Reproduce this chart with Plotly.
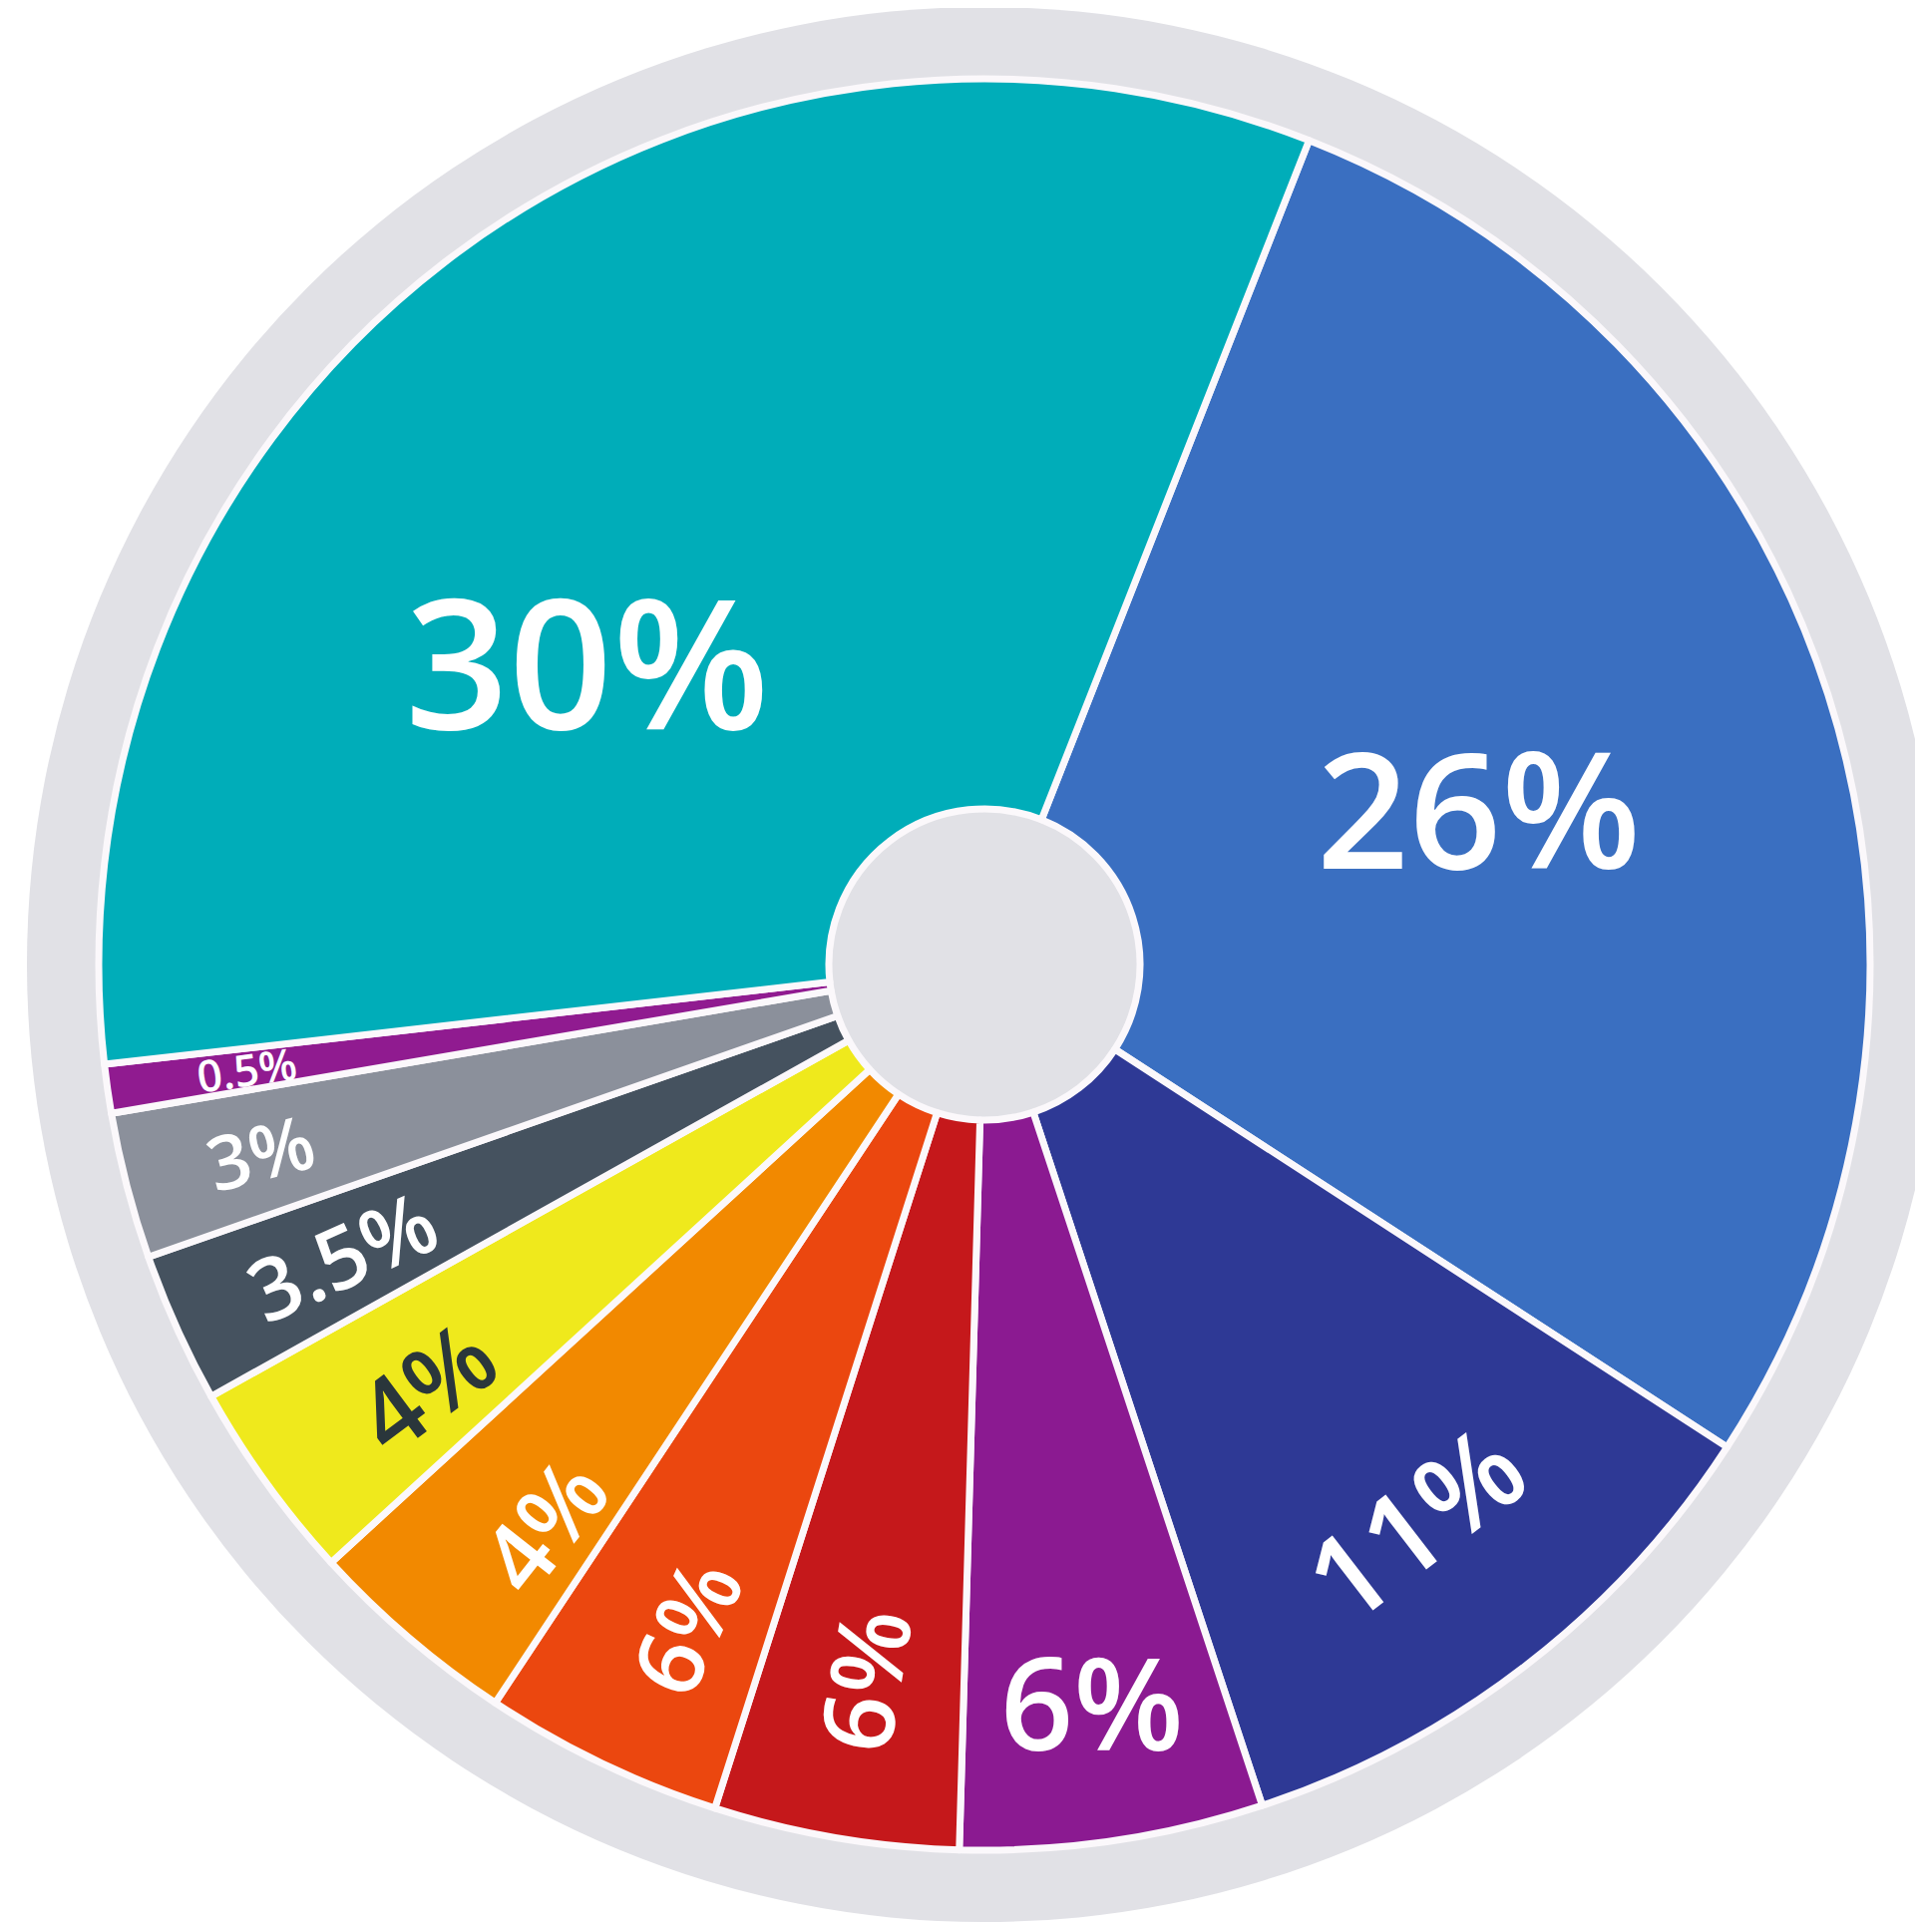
import math
import plotly.graph_objects as go

# ---------------- data ----------------
categories = ["Blue", "Navy", "Purple", "Red", "Vermilion", "Orange",
              "Yellow", "Slate", "Grey", "Violet", "Teal"]
# printed labels
label_text = ["26%", "11%", "6%", "6%", "6%", "4%", "4%", "3.5%", "3%", "0.5%", "30%"]
# slice shares as drawn in the picture (percent of the full circle)
slice_share = [28.2, 10.75, 5.53, 4.47, 4.39, 3.89, 3.69, 2.75, 2.67, 0.89, 32.77]

# ---------------- styles ----------------
colors = ["#3a6fc1", "#2e3995", "#8b1a91", "#c5181b", "#eb470f", "#f28900",
          "#efe91c", "#45525f", "#8b909b", "#901b90", "#00adb9"]
text_colors = ["white"] * 6 + ["#2a363b"] + ["white"] * 4
font_sizes = [162, 118, 128, 100, 95, 96, 100, 86, 75, 44, 182]
orient = ["h", "t", "h", "r", "r", "r", "r", "r", "r", "r", "h"]
label_r = [0.586, 0.794, 0.841, 0.819, 0.821, 0.805, 0.790, 0.796, 0.844, 0.842, 0.566]
label_dtheta = [0, 0, 0, 0, -1.2, -2.2, -1.0, 0, 0, 0, -14.9]
ring_color = "#e1e1e6"

W, H = 1928, 1937
cx, cy = 979, 959          # pie centre in figure pixels (page adds 8px body margin)
R = 888                    # pie radius in pixels
R_ring = 960               # grey ring radius
hole = 156 / R
start_angle = 21.5         # degrees clockwise from 12 o'clock

fig = go.Figure()

fig.add_trace(go.Pie(
    labels=categories,
    values=slice_share,
    sort=False,
    direction="clockwise",
    rotation=start_angle,
    hole=hole,
    textinfo="none",
    hovertext=label_text,
    hoverinfo="text+label",
    marker=dict(colors=colors, line=dict(color="#fbf8fb", width=7)),
    domain=dict(x=[(cx - R) / W, (cx + R) / W],
                y=[(H - cy - R) / H, (H - cy + R) / H]),
    showlegend=False,
))

# labels positioned from the slice geometry
total = sum(slice_share)
annotations = []
acc = 0.0
for i, v in enumerate(slice_share):
    a0 = start_angle + acc / total * 360
    acc += v
    a1 = start_angle + acc / total * 360
    mid = (a0 + a1) / 2 + label_dtheta[i]
    th = math.radians(mid)
    px = cx + label_r[i] * R * math.sin(th)
    py = cy - label_r[i] * R * math.cos(th)
    m = mid % 360
    if orient[i] == "r":
        ang = m - 270
    elif orient[i] == "t":
        ang = m - 180
    else:
        ang = 0
    annotations.append(dict(
        x=px / W, y=1 - py / H, xref="paper", yref="paper",
        text=label_text[i], showarrow=False, textangle=ang,
        xanchor="center", yanchor="middle",
        font=dict(family="Open Sans", size=font_sizes[i], color=text_colors[i],
                  weight=600),
    ))

fig.update_layout(
    width=W, height=H,
    margin=dict(l=0, r=0, t=0, b=0),
    paper_bgcolor="white",
    plot_bgcolor="white",
    annotations=annotations,
    shapes=[dict(
        type="circle", xref="paper", yref="paper", layer="below",
        x0=(cx - R_ring) / W, x1=(cx + R_ring) / W,
        y0=(H - cy - R_ring) / H, y1=(H - cy + R_ring) / H,
        fillcolor=ring_color, line=dict(width=0),
    )],
)

fig.write_html("out.html")
